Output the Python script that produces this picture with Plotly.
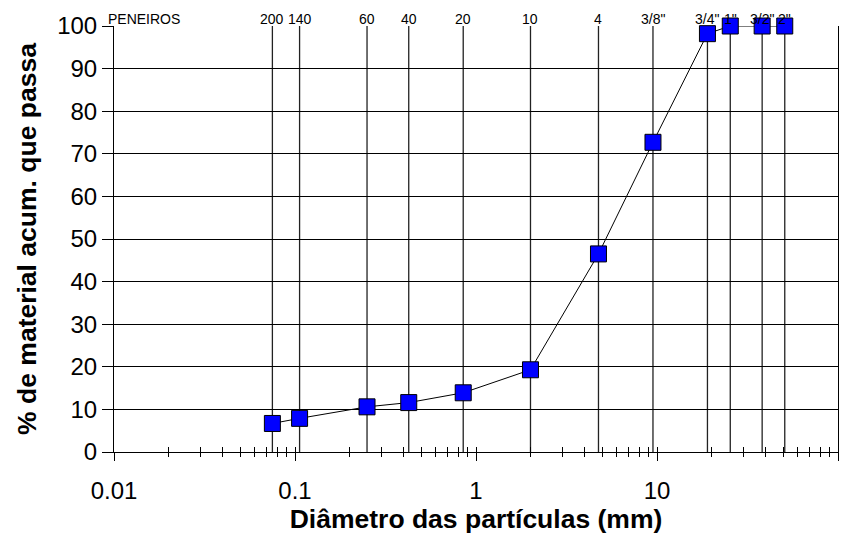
import math
import plotly.graph_objects as go

# data
sieve_labels = ["200", "140", "60", "40", "20", "10", "4", "3/8\"", "3/4\"", "1\"", "3/2\"", "2\""]
sieve_mm = [0.075, 0.106, 0.25, 0.425, 0.85, 2.0, 4.75, 9.5, 19.0, 25.4, 38.1, 50.8]
passing = [6.7, 7.9, 10.6, 11.6, 13.9, 19.3, 46.5, 72.7, 98.2, 100, 100, 100]
major_ticks = [0.01, 0.1, 1, 10, 100]
major_text = ["0.01", "0.1", "1", "10", "100"]
minor_ticks = [m * 10 ** e for e in (-2, -1, 0, 1) for m in range(2, 10)]

FONT = "Liberation Sans, Arial, sans-serif"

fig = go.Figure()

# sieve vertical lines
shapes = []
for x in sieve_mm:
    shapes.append(dict(type="line", xref="x", yref="y", x0=x, x1=x, y0=0, y1=100,
                       line=dict(color="#222222", width=1.3), layer="below"))

fig.add_trace(go.Scatter(
    x=sieve_mm, y=passing, mode="lines+markers",
    line=dict(color="black", width=1),
    marker=dict(symbol="square", size=16, color="#0000FF", line=dict(color="black", width=1)),
    showlegend=False, cliponaxis=False,
))

# invisible trace for second x axis (inside ticks)
fig.add_trace(go.Scatter(x=[0.01, 100], y=[0, 0], xaxis="x2", mode="markers",
                         marker=dict(opacity=0), showlegend=False, hoverinfo="skip"))

annotations = [dict(text="PENEIROS", xref="paper", yref="paper", x=0, y=1.0, xshift=-8,
                    xanchor="left", yanchor="bottom", showarrow=False, yshift=-3,
                    font=dict(family=FONT, size=14, color="black"))]
for lab, x in zip(sieve_labels, sieve_mm):
    annotations.append(dict(text=lab, xref="x", yref="paper", x=math.log10(x), y=1.0,
                            xanchor="center", yanchor="bottom", showarrow=False, yshift=-3,
                            font=dict(family=FONT, size=14, color="black")))

fig.update_layout(
    width=857, height=534,
    margin=dict(l=114, r=19, t=26, b=82),
    paper_bgcolor="white", plot_bgcolor="white",
    font=dict(family=FONT, color="black"),
    shapes=shapes,
    annotations=annotations,
    xaxis=dict(type="log", range=[-2, 2], showgrid=False, zeroline=False, automargin=False,
               showline=True, linecolor="black", linewidth=1,
               tickvals=major_ticks, ticktext=major_text,
               ticks="outside", ticklen=8, tickcolor="black", tickwidth=1,
               minor=dict(ticks="outside", ticklen=4, tickcolor="black", tickwidth=1, showgrid=False,
                          tickvals=minor_ticks),
               tickfont=dict(size=24, family=FONT),
               ticklabelstandoff=9,
               title=dict(text="<b>Diâmetro das partículas (mm)</b>", font=dict(size=26.5, family=FONT), standoff=6)),
    xaxis2=dict(type="log", range=[-2, 2], overlaying="x", side="bottom", showgrid=False, automargin=False,
                zeroline=False, showline=False, showticklabels=False,
                tickvals=major_ticks,
                ticks="inside", ticklen=5, tickcolor="black", tickwidth=1,
                minor=dict(ticks="inside", ticklen=5, tickcolor="black", tickwidth=1, showgrid=False,
                           tickvals=minor_ticks)),
    yaxis=dict(range=[0, 100], dtick=10, showgrid=True, gridcolor="black", gridwidth=1, automargin=False,
               zeroline=False, showline=True, linecolor="black", linewidth=1, mirror=True,
               ticks="outside", ticklen=11, tickcolor="black", tickwidth=1,
               tickfont=dict(size=24, family=FONT),
               title=dict(text="<b>% de material acum. que passa</b>", font=dict(size=26.5, family=FONT), standoff=12)),
)

fig.write_html("out.html", config={"displayModeBar": False},
               post_script="document.body.style.margin='0';document.body.style.overflow='hidden';")
